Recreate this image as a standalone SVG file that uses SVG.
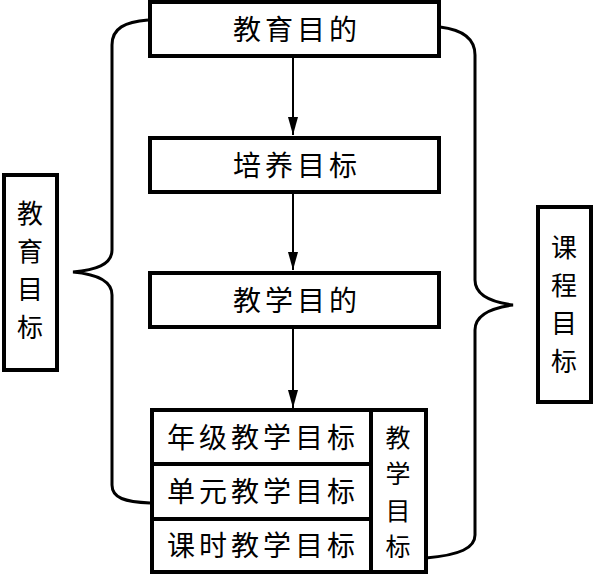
<svg xmlns="http://www.w3.org/2000/svg" width="594" height="576" viewBox="0 0 594 576">
<style>
.box{fill:#fff;stroke:#000;stroke-width:4}
.div{stroke:#000;stroke-width:4;fill:none}
.brace{fill:none;stroke:#000;stroke-width:3}
.arr{stroke:#000;stroke-width:2;fill:none}
text{font-family:"Noto Sans CJK SC","Noto Sans CJK JP",sans-serif;font-size:28px;fill:#000}
.h{text-anchor:middle;letter-spacing:4px}
.v{text-anchor:middle;font-size:26px}
.vn{text-anchor:middle;font-size:25px}
</style>
<defs>
<marker id="ah2" markerUnits="userSpaceOnUse" markerWidth="20" markerHeight="10" refX="18" refY="5" orient="auto" viewBox="0 0 20 10">
<path d="M0,0 L18,5 L0,10 Z" fill="#000"/>
</marker>
</defs>
<g id="connectors">
<line class="arr" x1="293" y1="56" x2="293" y2="135" marker-end="url(#ah2)"/>
<line class="arr" x1="293" y1="192" x2="293" y2="270" marker-end="url(#ah2)"/>
<line class="arr" x1="293" y1="327" x2="293" y2="408" marker-end="url(#ah2)"/>
<path class="brace" d="M148,20 C125,22 112,28 112,45 L112,250 C112,265 95,270 73,272 C95,274 112,280 112,295 L112,485 C112,498 125,502 150,503"/>
<path class="brace" d="M440,27 C465,30 475,40 475,55 L475,280 C475,295 490,302 513,305 C490,308 475,315 475,330 L475,535 C475,548 460,555 426,558"/>
</g>
<g id="n1">
<rect class="box" x="150" y="2" width="289" height="54"/>
<text class="h" x="297" y="40">教育目的</text>
</g>
<g id="n2">
<rect class="box" x="150" y="138" width="289" height="54"/>
<text class="h" x="297" y="176">培养目标</text>
</g>
<g id="n3">
<rect class="box" x="150" y="273" width="289" height="54"/>
<text class="h" x="297" y="311">教学目的</text>
</g>
<g id="n4">
<rect class="box" x="152" y="410" width="274" height="162"/>
<line class="div" x1="371" y1="410" x2="371" y2="572"/>
<line class="div" x1="152" y1="464" x2="371" y2="464"/>
<line class="div" x1="152" y1="519" x2="371" y2="519"/>
<text class="h" x="263" y="448">年级教学目标</text>
<text class="h" x="263" y="502">单元教学目标</text>
<text class="h" x="263" y="556">课时教学目标</text>
<text class="vn" x="398" y="446.5">教</text>
<text class="vn" x="398" y="483">学</text>
<text class="vn" x="398" y="519.5">目</text>
<text class="vn" x="398" y="556">标</text>
</g>
<g id="left">
<rect class="box" x="4" y="175" width="53" height="195"/>
<text class="v" x="30" y="223">教</text>
<text class="v" x="30" y="261">育</text>
<text class="v" x="30" y="299">目</text>
<text class="v" x="30" y="337">标</text>
</g>
<g id="right">
<rect class="box" x="538" y="207" width="53" height="195"/>
<text class="v" x="564" y="257">课</text>
<text class="v" x="564" y="295">程</text>
<text class="v" x="564" y="333">目</text>
<text class="v" x="564" y="371">标</text>
</g>
</svg>
